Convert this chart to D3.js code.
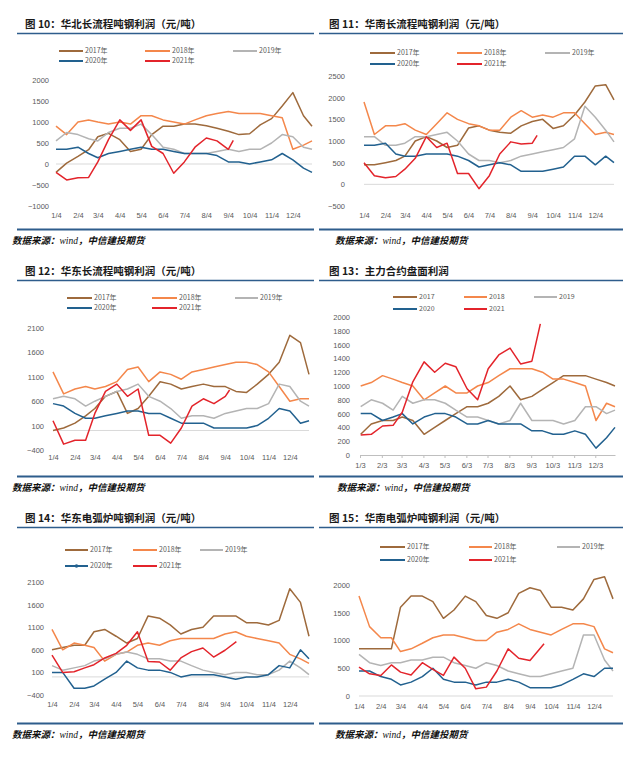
<!DOCTYPE html>
<html>
<head>
<meta charset="utf-8">
<script src="https://cdn.jsdelivr.net/npm/d3@7"></script>
<style>
  body { margin: 0; background: #fff; }
  svg { display: block; }
</style>
</head>
<body>
<div id="chart"></div>
<script>
// Half-month sample dates shared by every full-year series
const dates = ['1/4', '1/19', '2/4', '2/19', '3/4', '3/19', '4/4', '4/19', '5/4', '5/19', '6/4', '6/19',
    '7/4', '7/19', '8/4', '8/19', '9/4', '9/19', '10/4', '10/19', '11/4', '11/19', '12/4', '12/19', '12/31'];
const years = ['2017', '2018', '2019', '2020', '2021'];
const colors = ['#9e6a3c', '#f4874b', '#b4b4b4', '#22618f', '#e3242b'];

// 图10 华北长流程
const p10_2017 = [-200, 20, 180, 340, 650, 730, 580, 300, 350, 700, 900, 900, 950, 950, 910, 850, 780, 700, 720, 930, 1080, 1380, 1700, 1150, 900];
const p10_2018 = [900, 700, 1000, 1050, 1000, 950, 1000, 950, 1150, 1150, 1050, 1000, 950, 1050, 1150, 1200, 1250, 1200, 1200, 1200, 1150, 1100, 350, 450, 550];
const p10_2019 = [550, 750, 700, 600, 550, 750, 850, 850, 950, 700, 400, 350, 250, 250, 250, 300, 350, 300, 350, 350, 500, 700, 650, 400, 350];
const p10_2020 = [350, 350, 400, 250, 150, 250, 300, 350, 400, 350, 350, 300, 250, 250, 250, 200, 50, 50, 0, 50, 100, 250, 100, -100, -200];
const p10_2021 = [-200, -380, -330, -320, 50, 580, 1050, 800, 1050, 420, 250, -220, 50, 400, 620, 550, 350, 560];

// 图11 华南长流程
const p11_2017 = [450, 450, 500, 550, 650, 1000, 1100, 1000, 850, 900, 1300, 1350, 1250, 1200, 1180, 1350, 1450, 1500, 1290, 1350, 1600, 1900, 2270, 2300, 1950];
const p11_2018 = [1900, 1150, 1350, 1350, 1400, 1250, 1150, 1400, 1650, 1500, 1400, 1350, 1250, 1250, 1550, 1700, 1550, 1600, 1550, 1650, 1650, 1400, 1150, 1200, 1150];
const p11_2019 = [1100, 1100, 900, 900, 950, 1100, 1100, 1150, 1200, 1000, 700, 550, 550, 500, 550, 650, 700, 750, 800, 850, 1050, 1800, 1550, 1250, 980];
const p11_2020 = [900, 900, 950, 700, 650, 650, 700, 700, 700, 650, 550, 400, 450, 500, 450, 300, 300, 300, 350, 400, 650, 650, 450, 650, 500];
const p11_2021 = [500, 200, 150, 180, 350, 600, 1100, 850, 950, 250, 250, -100, 200, 700, 980, 930, 950, 1130];

// 图12 华东长流程
const p12_2017 = [0, 50, 150, 300, 450, 700, 800, 350, 450, 700, 1000, 950, 850, 900, 950, 900, 900, 800, 780, 950, 1150, 1400, 1950, 1800, 1150];
const p12_2018 = [1200, 750, 850, 900, 850, 900, 1000, 1250, 1300, 1000, 1200, 1150, 1050, 1200, 1250, 1300, 1350, 1400, 1400, 1350, 1200, 900, 600, 650, 650];
const p12_2019 = [650, 700, 650, 500, 600, 700, 800, 850, 950, 700, 600, 450, 250, 300, 300, 250, 350, 400, 450, 450, 550, 950, 900, 600, 500];
const p12_2020 = [550, 500, 350, 250, 250, 300, 350, 400, 400, 350, 350, 250, 150, 150, 150, 50, 50, 50, 50, 100, 250, 450, 400, 150, 200];
const p12_2021 = [200, -280, -200, -200, 350, 800, 950, 700, 850, -100, -100, -260, 50, 500, 650, 550, 700, 830];

// 图13 主力合约盘面
const p13_2017 = [300, 450, 500, 500, 550, 500, 300, 400, 500, 600, 700, 700, 750, 850, 1000, 800, 850, 950, 1050, 1150, 1150, 1150, 1100, 1050, 1000];
const p13_2018 = [1000, 1050, 1150, 1100, 1050, 1000, 800, 900, 1000, 900, 900, 1000, 1050, 1150, 1250, 1250, 1250, 1200, 1100, 1100, 1050, 1000, 500, 750, 700];
const p13_2019 = [700, 800, 750, 650, 850, 750, 800, 800, 750, 650, 550, 550, 500, 450, 500, 750, 500, 500, 500, 450, 500, 700, 700, 600, 650];
const p13_2020 = [600, 600, 500, 550, 600, 450, 550, 600, 600, 550, 450, 450, 500, 450, 450, 450, 350, 350, 300, 300, 350, 300, 100, 250, 400];
const p13_2021 = [290, 300, 420, 430, 620, 1060, 1350, 1200, 1330, 1280, 960, 800, 1250, 1450, 1550, 1320, 1360, 1900];

// 图14 华东电弧炉
const p14_2017 = [600, 650, 700, 700, 1000, 1050, 900, 750, 850, 1350, 1300, 1150, 950, 1050, 1100, 1350, 1350, 1350, 1200, 1200, 1150, 1250, 1950, 1650, 900];
const p14_2018 = [1050, 600, 750, 700, 650, 350, 500, 550, 700, 750, 700, 800, 850, 850, 850, 850, 950, 1000, 900, 850, 800, 750, 500, 400, 300];
const p14_2019 = [250, 150, 200, 250, 350, 400, 500, 550, 500, 400, 400, 350, 350, 250, 150, 100, 50, 100, 100, 50, 50, 150, 350, 200, 50];
const p14_2020 = [100, 100, -250, -250, -200, -50, 100, 350, 200, 150, 150, 100, 0, 50, 50, 50, 0, -50, 0, 0, 50, 250, 200, 600, 400];
const p14_2021 = [480, 100, 115, 200, 270, 420, 520, 700, 1000, 340, 330, 150, 420, 560, 640, 440, 590, 780];

// 图15 华南电弧炉
const p15_2017 = [850, 850, 850, 850, 1600, 1800, 1800, 1700, 1400, 1550, 1800, 1700, 1450, 1400, 1500, 1850, 1950, 1900, 1600, 1600, 1550, 1750, 2100, 2150, 1750];
const p15_2018 = [1800, 1250, 1050, 1050, 800, 850, 950, 1050, 1100, 1100, 1050, 1000, 1000, 1150, 1200, 1300, 1200, 1150, 1100, 1200, 1300, 1300, 1250, 850, 780];
const p15_2019 = [750, 600, 550, 600, 600, 650, 650, 700, 700, 600, 550, 500, 600, 550, 450, 400, 350, 350, 400, 450, 500, 1100, 1100, 650, 450];
const p15_2020 = [450, 450, 350, 300, 200, 250, 350, 500, 300, 250, 250, 200, 250, 250, 300, 250, 150, 150, 150, 200, 300, 400, 350, 500, 500];
const p15_2021 = [520, 400, 370, 560, 430, 380, 600, 480, 370, 700, 500, 130, 160, 450, 850, 680, 640, 940];

const panels = [
    { title: '图 10：华北长流程吨钢利润（元/吨）', series: [p10_2017, p10_2018, p10_2019, p10_2020, p10_2021], end21: '9/11',
      x0: 12, titleX: 25, rule: [17, 314], top: 0, legendRows: [51, 61], legendCols: [[59, 83], [145, 170], [233, 257]],
      yDomain: [-1000, 2000], yRange: [206, 80], yTicks: [-1000, -500, 0, 500, 1000, 1500, 2000], labelX: 49,
      xRange: [56, 312], tickDay: 4, tickY: 216, suffix: '年' },
    { title: '图 11：华南长流程吨钢利润（元/吨）', series: [p11_2017, p11_2018, p11_2019, p11_2020, p11_2021], end21: '9/11',
      x0: 335, titleX: 329, rule: [319, 623], top: 0, legendRows: [53, 64], legendCols: [[370, 395], [457, 482], [545, 570]],
      yDomain: [-500, 2500], yRange: [206, 76], yTicks: [-500, 0, 500, 1000, 1500, 2000, 2500], labelX: 345,
      xRange: [364, 614], tickDay: 4, tickY: 216, suffix: '年' },
    { title: '图 12：华东长流程吨钢利润（元/吨）', series: [p12_2017, p12_2018, p12_2019, p12_2020, p12_2021], end21: '9/10',
      x0: 12, titleX: 25, rule: [17, 314], top: 247, legendRows: [298, 308], legendCols: [[67, 92], [152, 177], [235, 258]],
      yDomain: [-400, 2100], yRange: [450, 328], yTicks: [-400, 100, 600, 1100, 1600, 2100], labelX: 44,
      xRange: [53, 309], tickDay: 4, tickY: 458, suffix: '年' },
    { title: '图 13：主力合约盘面利润', series: [p13_2017, p13_2018, p13_2019, p13_2020, p13_2021], end21: '9/16',
      x0: 337, titleX: 329, rule: [319, 623], top: 247, legendRows: [297, 309], legendCols: [[393, 417], [464, 487], [534, 557]],
      yDomain: [0, 2000], yRange: [455, 317], yTicks: d3.range(0, 2001, 200), labelX: 350,
      xRange: [360, 615], tickDay: 3, tickY: 467, suffix: '', axisLine: true },
    { title: '图 14：华东电弧炉吨钢利润（元/吨）', series: [p14_2017, p14_2018, p14_2019, p14_2020, p14_2021], end21: '9/20',
      x0: 12, titleX: 25, rule: [17, 314], top: 494, legendRows: [550, 566], legendCols: [[65, 88], [133, 157], [200, 223]],
      yDomain: [-400, 2100], yRange: [695, 582], yTicks: [-400, 100, 600, 1100, 1600, 2100], labelX: 44,
      xRange: [52, 309], tickDay: 4, tickY: 705, suffix: '年', marker2020: true },
    { title: '图 15：华南电弧炉吨钢利润（元/吨）', series: [p15_2017, p15_2018, p15_2019, p15_2020, p15_2021], end21: '9/24',
      x0: 335, titleX: 329, rule: [319, 623], top: 494, legendRows: [547, 560], legendCols: [[380, 405], [469, 492], [557, 580]],
      yDomain: [0, 2000], yRange: [696, 585], yTicks: [0, 500, 1000, 1500, 2000], labelX: 350,
      xRange: [359, 613], tickDay: 4, tickY: 707, suffix: '年' }
];

const parse = s => {
    const [m, d] = s.split('/').map(Number);
    return new Date(2021, m - 1, d);
};

const W = 634, H = 757;
const svg = d3.select('#chart').append('svg')
    .attr('width', W)
    .attr('height', H)
    .attr('viewBox', `0 0 ${W} ${H}`);

const cjk = '"Noto Sans CJK SC", "Noto Sans", sans-serif';
const num = '"Liberation Sans", Arial, sans-serif';

panels.forEach(p => {
    const g = svg.append('g');
    const t = p.top;

    // Title and rules
    g.append('text')
        .attr('x', p.titleX)
        .attr('y', t + 28)
        .attr('font-family', cjk)
        .attr('font-weight', 'bold')
        .attr('font-size', '10.5px')
        .attr('fill', '#1a1a1a')
        .text(p.title);

    g.append('line')
        .attr('x1', p.rule[0]).attr('x2', p.rule[1])
        .attr('y1', t + 33.5).attr('y2', t + 33.5)
        .attr('stroke', '#2e5d8c')
        .attr('stroke-width', 1.6);

    g.append('line')
        .attr('x1', p.rule[0]).attr('x2', p.rule[1])
        .attr('y1', t + 229.5).attr('y2', t + 229.5)
        .attr('stroke', '#2e5d8c')
        .attr('stroke-width', 2);

    const foot = g.append('text')
        .attr('x', p.x0)
        .attr('y', t + 244)
        .attr('font-family', cjk)
        .attr('font-weight', 'bold')
        .attr('font-style', 'italic')
        .attr('font-size', '9.5px')
        .attr('fill', '#111');
    foot.append('tspan').text('数据来源：');
    foot.append('tspan')
        .attr('font-family', '"Liberation Serif", serif')
        .attr('font-weight', 'normal')
        .text('wind');
    foot.append('tspan').text('，中信建投期货');

    // Scales
    const x = d3.scaleTime()
        .domain([new Date(2021, 0, p.tickDay), new Date(2021, 11, 31)])
        .range(p.xRange);
    const y = d3.scaleLinear()
        .domain(p.yDomain)
        .range(p.yRange);

    const monthTicks = d3.range(12).map(i => new Date(2021, i, p.tickDay));
    const fmtDay = d => `${d.getMonth() + 1}/${d.getDate()}`;

    // Zero line / axis
    if (p.axisLine) {
        const ax = g.append('g')
            .attr('transform', `translate(0,${y(0)})`)
            .call(d3.axisBottom(x)
                .tickValues(monthTicks)
                .tickFormat(fmtDay)
                .tickSizeInner(3)
                .tickSizeOuter(0)
                .tickPadding(5));
        ax.select('.domain').attr('stroke', '#bfbfbf');
        ax.selectAll('.tick line').attr('stroke', '#bfbfbf');
        ax.selectAll('text')
            .attr('font-family', num)
            .attr('font-size', '7.5px')
            .attr('fill', '#595959');
    } else {
        g.append('line')
            .attr('x1', p.xRange[0]).attr('x2', p.xRange[1])
            .attr('y1', y(0)).attr('y2', y(0))
            .attr('stroke', '#d9d9d9')
            .attr('stroke-width', 1);

        const ax = g.append('g')
            .attr('transform', `translate(0,${p.tickY - 5})`)
            .call(d3.axisBottom(x)
                .tickValues(monthTicks)
                .tickFormat(fmtDay)
                .tickSize(0)
                .tickPadding(2));
        ax.select('.domain').remove();
        ax.selectAll('text')
            .attr('font-family', num)
            .attr('font-size', '7.5px')
            .attr('fill', '#595959');
    }

    const ay = g.append('g')
        .attr('transform', `translate(${p.labelX + 2},0)`)
        .call(d3.axisLeft(y).tickValues(p.yTicks).tickFormat(d3.format('d')).tickSize(0).tickPadding(2));
    ay.select('.domain').remove();
    ay.selectAll('text')
        .attr('font-family', num)
        .attr('font-size', '7.5px')
        .attr('fill', '#595959');

    // Lines
    const line = d3.line()
        .x(d => x(d.date))
        .y(d => y(d.value));

    p.series.forEach((vals, i) => {
        const ds = i === 4 ? dates.slice(0, vals.length - 1).concat([p.end21]) : dates;
        const data = vals.map((v, k) => ({ date: parse(ds[k]), value: v }));
        g.append('path')
            .datum(data)
            .attr('fill', 'none')
            .attr('stroke', colors[i])
            .attr('stroke-width', 1.5)
            .attr('stroke-linejoin', 'round')
            .attr('d', line);
    });

    // Legend
    years.forEach((yr, i) => {
        const col = p.legendCols[i % 3];
        const ly = p.legendRows[i < 3 ? 0 : 1];
        g.append('line')
            .attr('x1', col[0]).attr('x2', col[1])
            .attr('y1', ly).attr('y2', ly)
            .attr('stroke', colors[i])
            .attr('stroke-width', 2);
        if (p.marker2020 && i === 3) {
            g.append('circle')
                .attr('cx', (col[0] + col[1]) / 2)
                .attr('cy', ly)
                .attr('r', 1.8)
                .attr('fill', colors[i]);
        }
        g.append('text')
            .attr('x', col[1] + 2)
            .attr('y', ly)
            .attr('dy', '0.35em')
            .attr('font-family', cjk)
            .attr('font-size', '7px')
            .attr('fill', '#595959')
            .text(yr + p.suffix);
    });
});
</script>
</body>
</html>
